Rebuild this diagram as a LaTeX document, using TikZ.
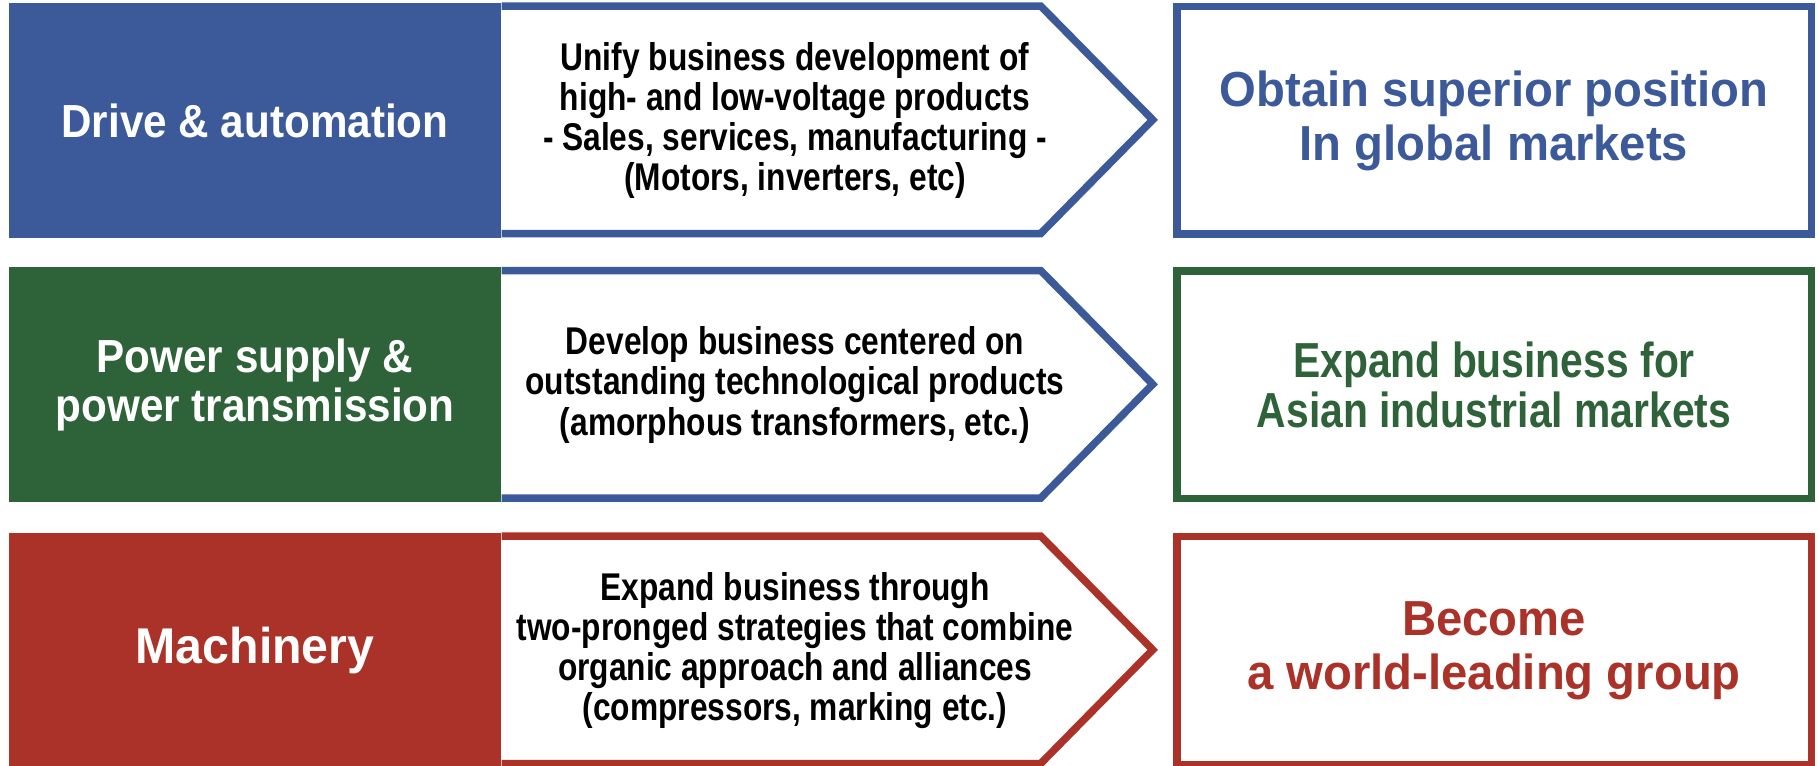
\documentclass[tikz,border=0pt]{standalone}
\usepackage{fontspec}
\setmainfont{Liberation Sans}
\newfontfamily\sectorfont[FakeStretch=0.91]{Liberation Sans}
\newfontfamily\planfont[FakeStretch=0.82]{Liberation Sans}
\newfontfamily\goalfont[FakeStretch=0.96]{Liberation Sans}
\newfontfamily\goalnarrow[FakeStretch=0.83]{Liberation Sans}
\definecolor{dblue}{RGB}{60,90,153}
\definecolor{dgreen}{RGB}{46,98,56}
\definecolor{dred}{RGB}{170,50,40}
\tikzset{
  sector/.style={fill=#1, text=white, minimum width=4.92cm, minimum height=2.35cm, inner sep=0pt,
    align=center, font=\sectorfont\bfseries\fontsize{13.2}{14.2}\selectfont},
  plan/.style={align=center, font=\planfont\bfseries\fontsize{11}{11.4}\selectfont},
  goal/.style={draw=#1, text=#1, line width=0.075cm, minimum width=6.345cm, minimum height=2.275cm,
    inner sep=0pt, align=center, font=\goalfont\bfseries\fontsize{14}{15.4}\selectfont},
  planline/.style={draw=#1, line width=0.075cm},
}
\begin{document}
\begin{tikzpicture}
    \useasboundingbox (0,0) rectangle (18.19,7.65);
    % business sectors
    \node[sector=dblue] (drive) at (2.55,6.445) {Drive \& automation};
    \node[sector=dgreen] (power) at (2.55,3.80) {Power supply \&\\power transmission};
    \node[sector=dred, font=\goalfont\bfseries\fontsize{14.3}{15}\selectfont] (mach) at (2.55,1.145) {Machinery};
    % strategy arrows
    \foreach \s/\c in {drive/dblue,power/dblue,mach/dred}
        \draw[planline=\c] ([yshift=-0.0375cm]\s.north east) -- ++(5.39,0) -- ++(1.12,-1.1375)
            -- ++(-1.12,-1.1375) -- ++(-5.39,0);
    \node[plan] (unify) at (7.95,6.445) {Unify business development of\\high- and low-voltage products\\- Sales, services, manufacturing -\\(Motors, inverters, etc)};
    \node[plan] (develop) at (7.95,3.80) {Develop business centered on\\outstanding technological products\\(amorphous transformers, etc.)};
    \node[plan] (expand) at (7.95,1.145) {Expand business through\\two-pronged strategies that combine\\organic approach and alliances\\(compressors, marking etc.)};
    % goals
    \node[goal=dblue] (global) at (14.94,6.445) {Obtain superior position\\In global markets};
    \node[goal=dgreen, font=\goalnarrow\bfseries\fontsize{14}{14.2}\selectfont] (asia) at (14.94,3.80) {Expand business for\\Asian industrial markets};
    \node[goal=dred] (world) at (14.94,1.145) {Become\\a world-leading group};
\end{tikzpicture}
\end{document}
